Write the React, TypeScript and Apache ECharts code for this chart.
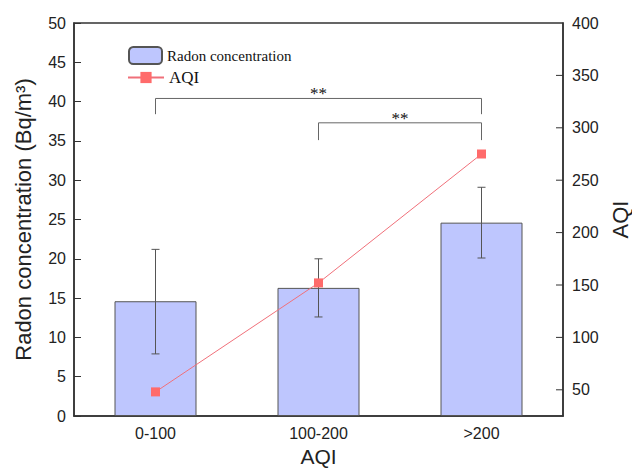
import React, { useEffect, useRef } from "react";
import * as echarts from "echarts";

const categories = ["0-100", "100-200", ">200"];
const radonMean = [14.6, 16.3, 24.6];
const radonUpper = [21.2, 20.0, 29.1];
const radonLower = [7.9, 12.6, 20.1];
const aqiValues = [48, 152, 275];
const rightTickValues = [50, 100, 150, 200, 250, 300, 350];
const bracketFrom = [0, 1];
const bracketTo = [2, 2];
const bracketTop = [40.4, 37.3];
const bracketLeg = [38.4, 35.1];
const bracketLabels = ["**", "**"];

const SANS = "'Liberation Sans', Arial, sans-serif";
const SERIF = "'Liberation Serif', 'Times New Roman', serif";

export default function App() {
  const ref = useRef<HTMLDivElement>(null);
  useEffect(() => {
    if (!ref.current) return;
    const chart = echarts.init(ref.current, null, { renderer: "svg" });
    const axisColor = "#333";
    const option: any = {
      animation: false,
      backgroundColor: "#fff",
      grid: {
        left: 74,
        right: 69,
        top: 23,
        bottom: 52,
        outerBoundsMode: "none",
        containLabel: false,
        show: true,
        borderColor: axisColor,
        borderWidth: 1.5,
        backgroundColor: "transparent",
      },
      legend: [
        {
          data: ["Radon concentration"],
          left: 123,
          top: 41,
          itemWidth: 33,
          itemHeight: 17,
          textStyle: { fontFamily: SERIF, fontSize: 15, color: "#111" },
        },
        {
          data: ["AQI"],
          left: 122,
          top: 64,
          itemWidth: 36,
          itemHeight: 14,
          textStyle: { fontFamily: SERIF, fontSize: 17, color: "#111" },
        },
      ],
      xAxis: {
        type: "category",
        data: categories,
        axisTick: { show: false },
        axisLine: { lineStyle: { color: axisColor, width: 1.5 } },
        axisLabel: { fontFamily: SANS, fontSize: 16, color: "#222", margin: 9 },
        name: "AQI",
        nameLocation: "middle",
        nameGap: 30,
        nameTextStyle: { fontFamily: SANS, fontSize: 21, color: "#222" },
      },
      yAxis: [
        {
          type: "value",
          min: 0,
          max: 50,
          interval: 5,
          axisLine: { show: true, lineStyle: { color: axisColor, width: 1.5 } },
          axisTick: { show: true, inside: true, length: 7, lineStyle: { color: axisColor } },
          axisLabel: { fontFamily: SANS, fontSize: 16, color: "#222", margin: 8 },
          splitLine: { show: false },
          name: "Radon concentration (Bq/m³)",
          nameLocation: "middle",
          nameGap: 40,
          nameTextStyle: { fontFamily: SANS, fontSize: 22, color: "#222" },
        },
        {
          type: "value",
          position: "right",
          min: 25,
          max: 400,
          interval: 25,
          axisLine: { show: true, lineStyle: { color: axisColor, width: 1.5 } },
          axisTick: { show: false },
          axisLabel: {
            fontFamily: SANS,
            fontSize: 16,
            color: "#222",
            margin: 9,
            formatter: (v: number) => (v % 50 === 0 ? String(v) : ""),
          },
          splitLine: { show: false },
          name: "AQI",
          nameLocation: "middle",
          nameGap: 46,
          nameRotate: 90,
          nameTextStyle: { fontFamily: SANS, fontSize: 22, color: "#222" },
        },
      ],
      series: [
        {
          name: "Radon concentration",
          type: "bar",
          data: radonMean,
          barWidth: 82,
          z: 2,
          itemStyle: { color: "#BEC6FE", borderColor: "#555", borderWidth: 1 },
        },
        {
          name: "errorbars",
          type: "custom",
          z: 3,
          data: categories.map((c, i) => [i, radonLower[i], radonUpper[i]]),
          encode: { x: 0, y: [1, 2] },
          renderItem: (params: any, api: any) => {
            const x = api.value(0);
            const hi = api.coord([x, api.value(2)]);
            const lo = api.coord([x, api.value(1)]);
            const cap = 4;
            const style = { stroke: "#555", lineWidth: 1 };
            return {
              type: "group",
              children: [
                { type: "line", shape: { x1: hi[0], y1: hi[1], x2: lo[0], y2: lo[1] }, style },
                { type: "line", shape: { x1: hi[0] - cap, y1: hi[1], x2: hi[0] + cap, y2: hi[1] }, style },
                { type: "line", shape: { x1: lo[0] - cap, y1: lo[1], x2: lo[0] + cap, y2: lo[1] }, style },
              ],
            };
          },
        },
        {
          name: "brackets",
          type: "custom",
          z: 3,
          data: bracketFrom.map((f, i) => [f, bracketTo[i], bracketTop[i], bracketLeg[i]]),
          encode: { x: [0, 1], y: [2, 3] },
          renderItem: (params: any, api: any) => {
            const a = api.coord([api.value(0), api.value(2)]);
            const b = api.coord([api.value(1), api.value(2)]);
            const leg = api.coord([api.value(0), api.value(3)]);
            return {
              type: "group",
              children: [
                {
                  type: "polyline",
                  shape: { points: [[a[0], leg[1]], a, b, [b[0], leg[1]]] },
                  style: { stroke: "#666", lineWidth: 1, fill: "none" },
                },
                {
                  type: "text",
                  x: (a[0] + b[0]) / 2,
                  y: a[1] + 4,
                  style: {
                    text: bracketLabels[params.dataIndex],
                    fontFamily: SERIF,
                    fontSize: 17,
                    fill: "#111",
                    align: "center",
                    verticalAlign: "bottom",
                  },
                },
              ],
            };
          },
        },
        {
          name: "rightTicks",
          type: "custom",
          yAxisIndex: 1,
          z: 3,
          data: rightTickValues.map((v) => [0, v]),
          encode: { x: 0, y: 1 },
          renderItem: (params: any, api: any) => {
            const p = api.coord([0, api.value(1)]);
            const right = params.coordSys.x + params.coordSys.width;
            return {
              type: "line",
              shape: { x1: right, y1: p[1], x2: right - 7, y2: p[1] },
              style: { stroke: axisColor, lineWidth: 1 },
            };
          },
        },
        {
          name: "AQI",
          type: "line",
          yAxisIndex: 1,
          data: aqiValues,
          z: 5,
          symbol: "rect",
          symbolSize: 9,
          itemStyle: { color: "#FF6B6B" },
          lineStyle: { color: "#F0707A", width: 1 },
        },
      ],
    };
    chart.setOption(option);
    return () => chart.dispose();
  }, []);
  return (
    <div
      ref={ref}
      style={{ position: "fixed", left: 0, top: 0, width: 632, height: 468 }}
    />
  );
}
